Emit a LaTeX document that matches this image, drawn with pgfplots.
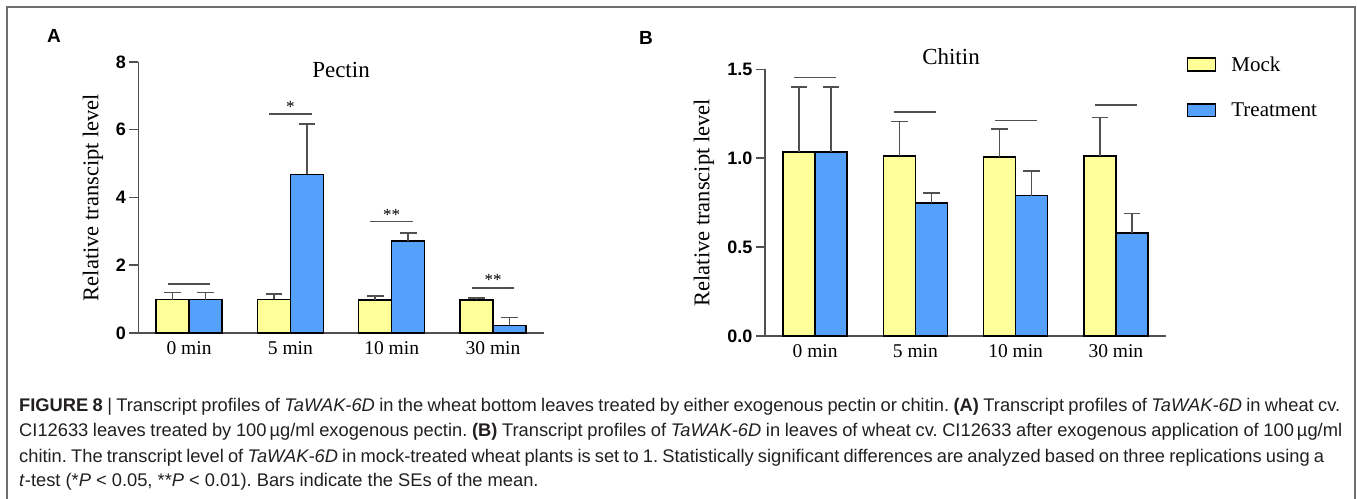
\documentclass[border=0pt]{standalone}
\usepackage{pgfplots}
\pgfplotsset{compat=1.18}
\usepackage{pgfplotstable}
\usepackage{fontspec}
\setmainfont{Liberation Serif}
\setsansfont{Liberation Sans}
\newfontfamily\capfont{Liberation Sans}
\definecolor{mockY}{RGB}{255,255,153}
\definecolor{treatB}{RGB}{84,160,250}
\definecolor{axgray}{RGB}{80,80,80}
\definecolor{framegray}{RGB}{110,110,110}
\definecolor{captxt}{RGB}{35,31,32}

\pgfplotstableread{
x m me t te
0 0.988 0.207 0.988 0.207
1 0.990 0.155 4.686 1.488
2 0.967 0.118 2.710 0.240
3 0.975 0.065 0.228 0.227
}\dataA

\pgfplotstableread{
x m me t te
0 1.036 0.364 1.036 0.364
1 1.011 0.195 0.749 0.054
2 1.006 0.159 0.789 0.140
3 1.013 0.217 0.579 0.109
}\dataB

\tikzset{sigstar/.style={anchor=base, font=\fontsize{17}{17}\selectfont, inner sep=0pt}}
\pgfplotsset{
  chart/.style={
    scale only axis, clip=false,
    axis x line*=bottom, axis y line*=left,
    axis line style={draw=axgray, line width=1.8pt, -},
    xmin=-0.5, xmax=3.5,
    xtick={0,1,2,3}, xticklabels={0 min,5 min,10 min,30 min},
    x tick label style={font=\fontsize{19.5}{22}\selectfont, yshift=4pt},
    xtick style={draw=none},
    tick align=outside,
    major tick length=9pt,
    ytick style={draw=axgray, line width=1.5pt},
    y tick label style={font=\sffamily\bfseries\fontsize{18}{20}\selectfont},
    /pgf/number format/assume math mode=true,
    ylabel style={font=\fontsize{22.5}{26}\selectfont, anchor=center},
    ylabel={Relative transcipt level},
  },
  bars/.style={ybar, draw=black, line width=1.5pt},
  errb/.style={forget plot, draw=none, mark=none,
    error bars/y dir=plus, error bars/y explicit,
    error bars/error mark=-,
    error bars/error bar style={draw=axgray, line width=1.5pt, solid},
    error bars/error mark options={rotate=90, draw=axgray, line width=1.5pt, mark size=8.3pt}},
  sig/.style={draw=axgray, line width=1.6pt, forget plot, mark=none},
}

\begin{document}
\begin{tikzpicture}[x=1pt,y=1pt]
\useasboundingbox (0,0) rectangle (1357,498);
\coordinate (Apos) at (138.4,165);
\coordinate (Bpos) at (765,162);
\draw[framegray, line width=1.8pt] (7.3,-5) -- (7.3,490.7) -- (1355,490.7) -- (1355,-5);

\node[font=\sffamily\bfseries\fontsize{19}{20}\selectfont] at (54,461.7) {A};
\node[font=\sffamily\bfseries\fontsize{19}{20}\selectfont] at (646,460.5) {B};
\node[anchor=base, font=\fontsize{23}{26}\selectfont] at (341,420.7) {Pectin};
\node[anchor=base, font=\fontsize{23}{26}\selectfont] at (951,433) {Chitin};

% Panel A
\begin{axis}[chart, at={(Apos)}, anchor=south west,
  width=405.3pt, height=271pt, ymin=0, ymax=8, ytick={0,2,4,6,8},
  ylabel style={at={(axis description cs:-0.112,0.5)}}]
\addplot[bars, fill=mockY, bar width=33pt, bar shift=-16.5pt] table[x=x, y=m] {\dataA};
\addplot[bars, fill=treatB, bar width=33pt, bar shift=16.5pt] table[x=x, y=t] {\dataA};
\addplot[errb] table[x expr=\thisrow{x}-0.1629, y=m, y error=me] {\dataA};
\addplot[errb] table[x expr=\thisrow{x}+0.1629, y=t, y error=te] {\dataA};
\addplot[sig] coordinates {(-0.21,1.44) (0.21,1.44)};
\addplot[sig] coordinates {(0.79,6.465) (1.21,6.465)};
\addplot[sig] coordinates {(1.79,3.286) (2.21,3.286)};
\addplot[sig] coordinates {(2.79,1.32) (3.21,1.32)};
\node[sigstar] at (axis cs:1,6.50) {*};
\node[sigstar] at (axis cs:2,3.32) {**};
\node[sigstar] at (axis cs:3,1.40) {**};
\end{axis}

% Panel B
\begin{axis}[chart, at={(Bpos)}, anchor=south west,
  width=401pt, height=266.7pt, ymin=0, ymax=1.5, ytick={0,0.5,1,1.5},
  yticklabel style={/pgf/number format/.cd, fixed, fixed zerofill, precision=1},
  ylabel style={at={(axis description cs:-0.152,0.5)}},
  legend style={at={(axis description cs:1.052,1.048)}, anchor=north west,
    draw=none, fill=none, inner sep=0pt, outer sep=0pt,
    nodes={inner sep=0pt}, row sep=30pt, column sep=15pt,
    font=\fontsize{21}{24}\selectfont},
  legend cell align=left,
  legend image code/.code={\draw[#1, line width=1.5pt] (0pt,-6.35pt) rectangle (28pt,6.35pt);}]
\addplot[bars, fill=mockY, bar width=32pt, bar shift=-16pt] table[x=x, y=m] {\dataB};
\addlegendentry{Mock}
\addplot[bars, fill=treatB, bar width=32pt, bar shift=16pt] table[x=x, y=t] {\dataB};
\addlegendentry{Treatment}
\addplot[errb] table[x expr=\thisrow{x}-0.1596, y=m, y error=me] {\dataB};
\addplot[errb] table[x expr=\thisrow{x}+0.1596, y=t, y error=te] {\dataB};
\addplot[sig] coordinates {(-0.21,1.453) (0.21,1.453)};
\addplot[sig] coordinates {(0.79,1.261) (1.21,1.261)};
\addplot[sig] coordinates {(1.79,1.212) (2.21,1.212)};
\addplot[sig] coordinates {(2.79,1.30) (3.21,1.30)};
\end{axis}

% Caption
\begin{scope}[every node/.style={anchor=base west, inner sep=0pt, text=captxt, font=\capfont\fontsize{18.3}{22}\selectfont}]
\node at (19,86) {\frenchspacing\makebox[1321pt][s]{{\bfseries FIGURE 8} | Transcript profiles of \textit{TaWAK-6D} in the wheat bottom leaves treated by either exogenous pectin or chitin. {\bfseries (A)} Transcript profiles of \textit{TaWAK-6D} in wheat cv.}};
\node at (19,61) {\frenchspacing\makebox[1323pt][s]{CI12633 leaves treated by 100\,µg/ml exogenous pectin. {\bfseries (B)} Transcript profiles of \textit{TaWAK-6D} in leaves of wheat cv. CI12633 after exogenous application of 100\,µg/ml}};
\node at (19,36) {\frenchspacing\makebox[1305pt][s]{chitin. The transcript level of \textit{TaWAK-6D} in mock-treated wheat plants is set to 1. Statistically significant differences are analyzed based on three replications using a}};
\node at (19,11.5) {\frenchspacing \textit{t}-test (*\textit{P} < 0.05, **\textit{P} < 0.01). Bars indicate the SEs of the mean.};
\end{scope}
\end{tikzpicture}
\end{document}
